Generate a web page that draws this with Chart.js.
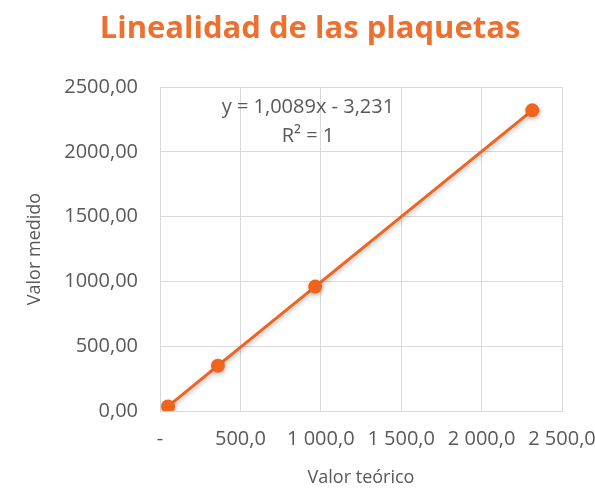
<!DOCTYPE html>
<html>
<head>
<meta charset="utf-8">
<script src="https://cdn.jsdelivr.net/npm/chart.js@4"></script>
<style>
  html, body { margin: 0; padding: 0; background: #fff; }
  #wrap { width: 595px; height: 489px; }
</style>
</head>
<body>
<div id="wrap"><canvas id="chart" width="595" height="489"></canvas></div>
<script>
// --- data ---
const valorTeorico = [50, 360, 965, 2315];
const valorMedido = [35, 350, 960, 2320];
const xTicks = [0, 500, 1000, 1500, 2000, 2500];
const yTicks = [0, 500, 1000, 1500, 2000, 2500];
const chartTitle = 'Linealidad de las plaquetas';
const trendLabel = ['y = 1,0089x - 3,231', 'R\u00B2 = 1'];

const ORANGE = '#f0641e';
const GRID = '#d9d9d9';
const TEXT = '#595959';
const FONT = "'Open Sans', sans-serif";

function fmtX(v) {
    if (v === 0) return '-';
    const parts = v.toFixed(1).split('.');
    return parts[0].replace(/\B(?=(\d{3})+(?!\d))/g, ' ') + ',' + parts[1];
}

function fmtY(v) {
    return v.toFixed(2).replace('.', ',');
}

// big orange title, centred a bit right of the canvas middle like the original
const titleText = {
    id: 'titleText',
    afterDraw(chart) {
        const ctx = chart.ctx;
        ctx.save();
        ctx.fillStyle = '#ed7030';
        ctx.font = 'bold 31px ' + FONT;
        ctx.textAlign = 'center';
        ctx.textBaseline = 'middle';
        ctx.fillText(chartTitle, 310, 29);
        ctx.restore();
    }
};

// equation of the trendline, placed in data space
const trendText = {
    id: 'trendText',
    afterDatasetsDraw(chart) {
        const ctx = chart.ctx;
        const x = chart.scales.x.getPixelForValue(920);
        const y = chart.scales.y.getPixelForValue(2340);
        ctx.save();
        ctx.fillStyle = TEXT;
        ctx.font = '20px ' + FONT;
        ctx.textAlign = 'center';
        ctx.textBaseline = 'middle';
        ctx.fillText(trendLabel[0], x, y);
        ctx.fillText(trendLabel[1], x, y + 29);
        ctx.restore();
    }
};

const shadow = {
    id: 'shadow',
    beforeDatasetsDraw(chart) {
        const ctx = chart.ctx;
        ctx.save();
        ctx.shadowColor = 'rgba(0,0,0,0.25)';
        ctx.shadowBlur = 4;
        ctx.shadowOffsetX = 1;
        ctx.shadowOffsetY = 2;
    },
    afterDatasetsDraw(chart) {
        chart.ctx.restore();
    }
};

new Chart(document.getElementById('chart'), {
    type: 'scatter',
    data: {
        datasets: [{
            data: valorTeorico.map((x, i) => ({ x: x, y: valorMedido[i] })),
            showLine: true,
            borderColor: ORANGE,
            backgroundColor: ORANGE,
            borderWidth: 3,
            pointRadius: 7,
            pointBorderWidth: 0
        }]
    },
    options: {
        responsive: false,
        animation: false,
        layout: { padding: { left: 0, right: 33, top: 87, bottom: 0 } },
        plugins: {
            legend: { display: false },
            tooltip: { enabled: false },
            title: { display: false }
        },
        scales: {
            x: {
                type: 'linear',
                min: 0,
                max: 2500,
                afterBuildTicks: s => { s.ticks = xTicks.map(v => ({ value: v })); },
                afterFit: s => { s.height = 78; s.paddingLeft = 0; s.paddingRight = 0; },
                ticks: {
                    color: TEXT,
                    font: { family: FONT, size: 20 },
                    padding: 16,
                    maxRotation: 0,
                    autoSkip: false,
                    callback: v => fmtX(v)
                },
                grid: { color: GRID, drawTicks: false },
                border: { color: GRID },
                title: {
                    display: true,
                    text: 'Valor teórico',
                    color: TEXT,
                    font: { family: FONT, size: 18 },
                    padding: { top: 4, bottom: 0 }
                }
            },
            y: {
                min: 0,
                max: 2500,
                afterBuildTicks: s => { s.ticks = yTicks.map(v => ({ value: v })); },
                afterFit: s => { s.width = 160; s.paddingTop = 0; s.paddingBottom = 0; },
                ticks: {
                    color: TEXT,
                    font: { family: FONT, size: 20 },
                    padding: 22,
                    callback: v => fmtY(v)
                },
                grid: { color: GRID, drawTicks: false },
                border: { color: GRID },
                title: {
                    display: true,
                    text: 'Valor medido',
                    color: TEXT,
                    font: { family: FONT, size: 18 },
                    padding: { top: 24, bottom: 0 }
                }
            }
        }
    },
    plugins: [shadow, trendText, titleText]
});
</script>
</body>
</html>
